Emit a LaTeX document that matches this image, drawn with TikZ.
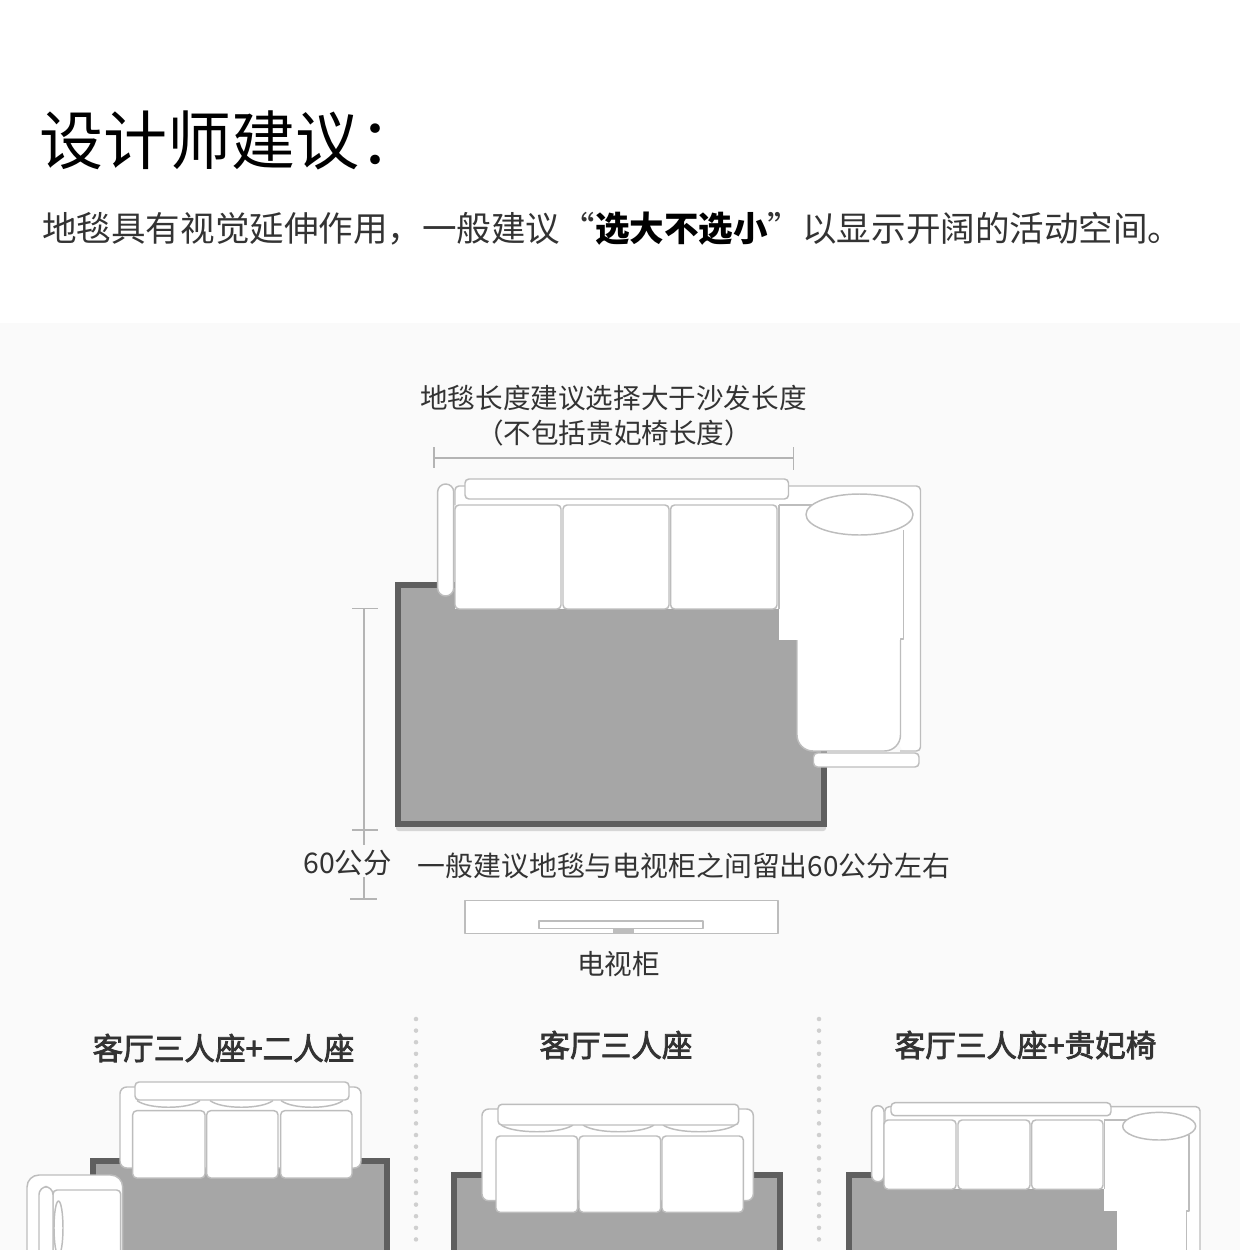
\documentclass[tikz,border=0pt]{standalone}
\usepackage{fontspec}
\setmainfont{Noto Sans CJK SC}
\newfontfamily\cjkf{Noto Sans CJK SC}
\newfontfamily\cjkm[AutoFakeBold=2.4]{Noto Sans CJK SC}
\newcommand{\px}[1]{\fontsize{\the\dimexpr #1pt*3/4\relax}{\the\dimexpr #1pt\relax}\selectfont}
\definecolor{panel}{HTML}{FAFAFA}
\definecolor{rugfill}{HTML}{A6A6A6}
\definecolor{rugedge}{HTML}{5F5F5F}
\definecolor{sofaline}{HTML}{BDBDBD}
\definecolor{dimline}{HTML}{B4B4B4}
\definecolor{inkdark}{HTML}{333333}
\definecolor{rugshadow}{HTML}{D6D6D6}
\definecolor{dotgrey}{HTML}{CFCFCF}
\tikzset{
  x=0.75pt,y=-0.75pt,
  rug/.style={fill=rugfill,draw=rugedge,line width=4.5pt,line join=miter},
  sofa/.style={fill=white,draw=sofaline,line width=1.1pt,line join=round},
  sofaedge/.style={draw=sofaline,line width=1.1pt,line join=round},
  dim/.style={draw=dimline,line width=0.9pt},
  caption/.style={inner sep=0pt,text=inkdark},
  heading/.style={inner sep=0pt,text=inkdark},
  dotrow/.style={draw=dotgrey,line width=3.4pt,line cap=round,dash pattern=on 0pt off 8.7pt},
}
\newcommand{\cushion}[4]{\draw[sofa,rounded corners=3pt] (#1,#3) rectangle (#2,#4);}
\newcommand{\lowarc}[3]{\draw[sofa] (#1,#3) .. controls ({#1+0.18*(#2-#1)},#3+9) and ({#2-0.18*(#2-#1)},#3+9) .. (#2,#3);}
\begin{document}
\begin{tikzpicture}
\useasboundingbox (0,0) rectangle (1242,1250);
\clip (0,0) rectangle (1242,1250);
\fill[white] (0,0) rectangle (1242,323);
\fill[panel] (0,323) rectangle (1240,1250);
\fill[white] (1240,0) rectangle (1242,1250);

\node[anchor=west,inner sep=0pt,text=black] (title) at (39,140) {\px{64}\cjkf 设计师建议^^^^ff1a};
\node[anchor=west,inner sep=0pt,text=inkdark] (sub) at (42,228.5) {\px{34.55}\cjkf 地毯具有视觉延伸作用^^^^ff0c一般建议“\textbf{\color{black}选大不选小}”以显示开阔的活动空间。};

% main diagram text
\node[caption] (t1) at (613.5,398.5) {\px{27.6}地毯长度建议选择大于沙发长度};
\node[caption] (t2) at (614,433) {\px{27.6}^^^^ff08不包括贵妃椅长度^^^^ff09};
% width dimension
\draw[dim] (434,447) -- (434,468);
\draw[dim] (793.5,447) -- (793.5,469.5);
\draw[dim] (434,458) -- (793.5,458);

% main rug
\fill[rugshadow,rounded corners=2pt] (396,822) rectangle (826,831);
\draw[rug] (397.5,584.5) rectangle (824,824);

% main sofa: shell
\fill[white] (455,486) rectangle (920.5,609);
\fill[white] (779,609) rectangle (920.5,640);
\fill[white] (797,640) rectangle (920.5,738);
\fill[white,rounded corners=4pt] (900,700) rectangle (920.5,751);
\draw[sofaedge,rounded corners=3pt] (455,505) -- (455,486) -- (920.5,486) -- (920.5,751) -- (900,751);
\draw[sofa,rounded corners=12pt] (797,640) -- (797,751) -- (900.5,751) -- (900.5,640);
\draw[sofaedge] (903.3,530) -- (903.3,639) -- (900.5,639) -- (900.5,660);
\draw[sofaedge] (779,505) -- (815,505);
\draw[sofaedge] (779,505) -- (779,609);
\draw[sofa,rounded corners=3pt] (813.5,753) rectangle (919,767);
\draw[sofa,rounded corners=6pt] (437.6,484) rectangle (453.7,596);
\draw[sofa,rounded corners=3pt] (465,479) rectangle (788.5,499);
\cushion{455}{561}{505}{609}
\cushion{563}{669}{505}{609}
\cushion{670.6}{777}{505}{609}
\draw[sofa] (859.5,514.5) ellipse [x radius=53.5,y radius=20.5];

% height dimension
\draw[dim] (352,608.5) -- (378,608.5);
\draw[dim] (364,608.5) -- (364,845);
\draw[dim] (352,830) -- (378,830);
\draw[dim] (364,877) -- (364,899);
\draw[dim] (350,899) -- (377,899);
\node[caption] (d60) at (347.5,862.5) {\px{28.4}60公分};
\node[caption] (t3) at (684,865.5) {\px{27.85}一般建议地毯与电视柜之间留出60公分左右};

% tv
\draw[sofa] (465,900.5) rectangle (778,933.5);
\draw[sofaedge] (539,921) rectangle (703,928.7);
\fill[sofaline] (613,929) rectangle (633.5,933);
\node[caption] (t4) at (618.5,964) {\px{27.6}电视柜};

% dotted separators
\draw[dotrow] (416,1019) -- (416,1250);
\draw[dotrow] (819,1019) -- (819,1250);

% headings
\node[heading] (h1) at (223.5,1048) {\px{30.6}\cjkm\textbf{客厅三人座+二人座}};
\node[heading] (h2) at (616,1045) {\px{30.6}\cjkm\textbf{客厅三人座}};
\node[heading] (h3) at (1025.5,1045) {\px{30.6}\cjkm\textbf{客厅三人座+贵妃椅}};

% left: rug + sofa + chair
\draw[rug] (92.5,1160.5) rectangle (386.5,1260);
\draw[sofa,rounded corners=5pt] (120,1087) rectangle (361,1168);
\lowarc{137}{200}{1100.5}
\lowarc{210}{273}{1100.5}
\lowarc{281}{343}{1100.5}
\draw[sofa,rounded corners=3pt] (135,1082) rectangle (349,1100);
\cushion{132.7}{205}{1110.7}{1178}
\cushion{206.7}{278}{1110.7}{1178}
\cushion{280.7}{352}{1110.7}{1178}
\draw[sofa,rounded corners=9pt] (27,1270) -- (27,1175) -- (122.7,1175) -- (122.7,1270);
\draw[sofa,rounded corners=3pt] (53,1270) -- (53,1190) -- (120.7,1190) -- (120.7,1270);
\draw[sofa,rounded corners=6pt] (39,1270) -- (39,1186.7) -- (53,1186.7) -- (53,1270);
\draw[sofaedge] (58.5,1228) ellipse [x radius=4.5,y radius=27];

% middle: rug + sofa
\draw[rug] (453.5,1174.5) rectangle (780,1260);
\draw[sofa,rounded corners=5pt] (482,1109) rectangle (753.3,1200.7);
\lowarc{501}{573}{1125}
\lowarc{583}{654}{1125}
\lowarc{663}{735}{1125}
\draw[sofa,rounded corners=3pt] (498,1104.3) rectangle (738.7,1125);
\cushion{496}{577.7}{1136}{1212.3}
\cushion{579}{660.7}{1136}{1212.3}
\cushion{662}{743.3}{1136}{1212.3}

% right: rug + sofa + chaise
\draw[rug] (849,1174.5) rectangle (1130,1260);
\fill[white] (885,1106.7) rectangle (1200,1189);
\fill[white] (1104.3,1189) rectangle (1200,1211);
\fill[white] (1116.7,1211) rectangle (1200,1260);
\draw[sofaedge,rounded corners=3pt] (885,1120) -- (885,1106.7) -- (1200,1106.7) -- (1200,1270);
\draw[sofaedge] (1104.3,1120) -- (1135,1120);
\draw[sofaedge] (1104.3,1120) -- (1104.3,1189);
\draw[sofaedge] (1189,1135) -- (1189,1211) -- (1186.7,1211) -- (1186.7,1260);
\draw[sofa,rounded corners=4.5pt] (871.7,1105.7) rectangle (884,1181.7);
\draw[sofa,rounded corners=3pt] (891,1102.7) rectangle (1111,1115.7);
\cushion{884}{956}{1120}{1189.3}
\cushion{958}{1030}{1120}{1189.3}
\cushion{1031.7}{1103}{1120}{1189.3}
\draw[sofa] (1159.2,1126.2) ellipse [x radius=36.5,y radius=13.8];
\end{tikzpicture}
\end{document}
